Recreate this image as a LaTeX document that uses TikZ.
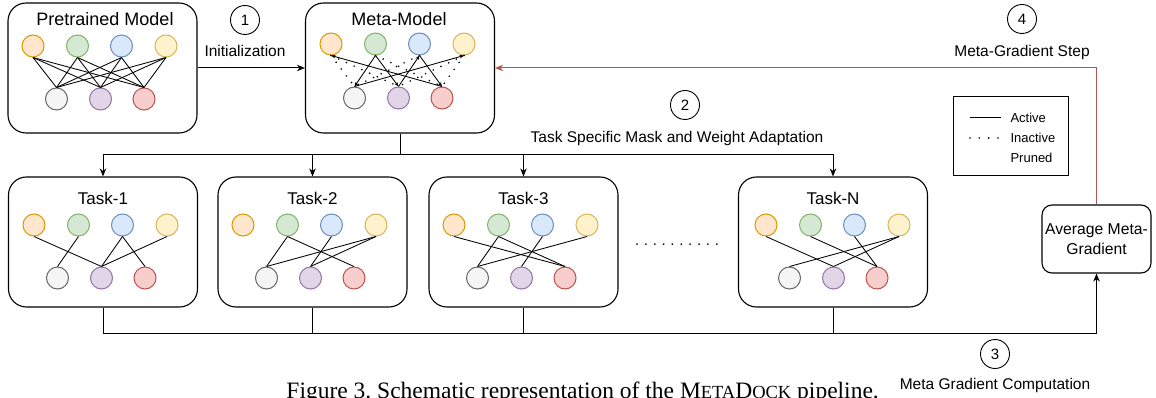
\documentclass[tikz,border=0pt]{standalone}
\usepackage{fontspec}
\setmainfont{Liberation Sans}
\newfontfamily\capfont{Liberation Serif}
\usetikzlibrary{arrows.meta}
\definecolor{oraF}{HTML}{FFE6CC}\definecolor{oraD}{HTML}{D79B00}
\definecolor{grnF}{HTML}{D5E8D4}\definecolor{grnD}{HTML}{82B366}
\definecolor{bluF}{HTML}{DAE8FC}\definecolor{bluD}{HTML}{6C8EBF}
\definecolor{yelF}{HTML}{FFF2CC}\definecolor{yelD}{HTML}{D6B656}
\definecolor{gryF}{HTML}{F5F5F5}\definecolor{gryD}{HTML}{666666}
\definecolor{purF}{HTML}{E1D5E7}\definecolor{purD}{HTML}{9673A6}
\definecolor{redF}{HTML}{F8CECC}\definecolor{redD}{HTML}{B85450}
\tikzset{
  modelbox/.style={draw, line width=1.1pt, rounded corners=18pt, minimum width=189pt, minimum height=130pt, inner sep=0pt},
  avgbox/.style={draw, line width=1.1pt, rounded corners=10pt, minimum width=109pt, minimum height=68pt, inner sep=0pt, align=center, font=\fontsize{15.7}{20}\selectfont},
  legbox/.style={draw, line width=1pt, minimum width=115pt, minimum height=79pt, inner sep=0pt},
  neu/.style={circle, draw, line width=1pt, minimum size=22pt, inner sep=0pt},
  ora/.style={neu, fill=oraF, draw=oraD}, grn/.style={neu, fill=grnF, draw=grnD},
  blu/.style={neu, fill=bluF, draw=bluD}, yel/.style={neu, fill=yelF, draw=yelD},
  gry/.style={neu, fill=gryF, draw=gryD}, pur/.style={neu, fill=purF, draw=purD},
  rdn/.style={neu, fill=redF, draw=redD},
  wire/.style={line width=0.85pt},
  wiretip/.style={line width=0.85pt, -{Stealth[length=4.5pt,width=3.5pt]}},
  pruned/.style={line width=1.8pt, line cap=round, dash pattern=on 0pt off 8.5pt},
  arr/.style={line width=1pt, -{Stealth[length=8pt,width=6.5pt,inset=2.5pt]}},
  redarr/.style={line width=1pt, draw=redD, -{Stealth[length=8pt,width=6.5pt,inset=2.5pt]}},
  conn/.style={line width=1pt},
  bigtitle/.style={font=\fontsize{18}{21}\selectfont},
  tasktitle/.style={font=\fontsize{17}{20}\selectfont},
  lbl/.style={font=\fontsize{15.5}{18}\selectfont},
  num/.style={circle, draw, line width=0.9pt, minimum size=29pt, inner sep=0pt, font=\fontsize{15}{18}\selectfont},
  legtext/.style={anchor=west, font=\fontsize{13}{15}\selectfont},
}
% network: prefix, left x of box, y top row, y bottom row
\newcommand\netnodes[4]{%
  \node[ora] (#1a) at (#2+25,#3) {};
  \node[grn] (#1b) at (#2+69.5,#3) {};
  \node[blu] (#1c) at (#2+113.5,#3) {};
  \node[yel] (#1d) at (#2+158,#3) {};
  \node[gry] (#1x) at (#2+48.5,#4) {};
  \node[pur] (#1y) at (#2+92.5,#4) {};
  \node[rdn] (#1z) at (#2+136,#4) {};
}
\newcommand\wireup[3]{\draw[wire] (#1#2.south) -- (#1#3.north);}
\begin{document}
\begin{tikzpicture}[x=1pt,y=-1pt]
\path[fill=white, use as bounding box] (0,0) rectangle (1156,398);

% ---------- Pretrained model ----------
\node[modelbox] (pre) at (102.5,68) {};
\node[bigtitle] (preT) at (105,19) {Pretrained Model};
\netnodes{p}{8}{46}{99}
\foreach \u in {a,b,c,d}{\foreach \v in {x,y,z}{\draw[wire] (p\u.south) -- (p\v.north);}}

% ---------- Meta-model ----------
\node[modelbox] (meta) at (400,68) {};
\node[bigtitle] (metaT) at (399,19) {Meta-Model};
\netnodes{m}{306}{44}{98}
\draw[wiretip] (mz.north) -- (ma.south);
\draw[wiretip] (mb.south) -- (mx.north);
\draw[wiretip] (mb.south) -- (my.north);
\draw[wiretip] (my.north) -- (mc.south);
\draw[wiretip] (mc.south) -- (mz.north);
\draw[wiretip] (mx.north) -- (md.south);
\draw[pruned] (ma.south) -- (mx.north);
\draw[pruned] (ma.south) -- (my.north);
\draw[pruned] (mb.south) -- (mz.north);
\draw[pruned] (mc.south) -- (mx.north);
\draw[pruned] (md.south) -- (my.north);
\draw[pruned] (md.south) -- (mz.north);

% ---------- Tasks ----------
\node[modelbox] (t1) at (103,242) {};
\node[tasktitle] (t1T) at (103,198) {Task-1};
\netnodes{ta}{9}{225}{278}
\wireup{ta}{a}{y}\wireup{ta}{b}{x}\wireup{ta}{c}{y}\wireup{ta}{c}{z}\wireup{ta}{d}{y}

\node[modelbox] (t2) at (312.5,242) {};
\node[tasktitle] (t2T) at (312.5,198) {Task-2};
\netnodes{tb}{218}{225}{278}
\wireup{tb}{b}{x}\wireup{tb}{b}{z}\wireup{tb}{c}{y}\wireup{tb}{d}{x}\wireup{tb}{d}{y}

\node[modelbox] (t3) at (523.5,242) {};
\node[tasktitle] (t3T) at (523.5,198) {Task-3};
\netnodes{tc}{429}{225}{278}
\wireup{tc}{a}{z}\wireup{tc}{b}{x}\wireup{tc}{b}{z}\wireup{tc}{c}{y}\wireup{tc}{d}{x}

\node[modelbox] (tn) at (833,242) {};
\node[tasktitle] (tnT) at (833,198) {Task-N};
\netnodes{td}{741}{225}{278}
\wireup{td}{a}{y}\wireup{td}{b}{z}\wireup{td}{c}{z}\wireup{td}{d}{x}\wireup{td}{d}{y}

\node[anchor=base, font=\fontsize{15}{18}\selectfont] (ellip) at (677,245)
  {.\hspace{4.7pt}.\hspace{4.7pt}.\hspace{4.7pt}.\hspace{4.7pt}.\hspace{4.7pt}.\hspace{4.7pt}.\hspace{4.7pt}.\hspace{4.7pt}.\hspace{4.7pt}.};

% ---------- Average box, legend ----------
\node[avgbox] (avg) at (1096.5,239) {Average Meta-\\Gradient};
\node[legbox] (leg) at (1010.5,136.5) {};
\coordinate (la1) at (970,118); \coordinate (la2) at (1001,118);
\coordinate (lb1) at (970,138); \coordinate (lb2) at (1001,138);
\draw[line width=1pt] (la1) -- (la2);
\draw[line width=1.8pt, line cap=round, dash pattern=on 0pt off 9.3pt] (lb1) -- (lb2);
\node[legtext] (lA) at (1007,118) {Active};
\node[legtext] (lI) at (1007,138) {Inactive};
\node[legtext] (lP) at (1007,158) {Pruned};

% ---------- connectors ----------
\draw[arr] (pre) -- (meta);
\coordinate (hub) at (400,155);
\draw[conn] (meta.south) -- (hub);
\draw[arr] (hub) -| (t1.north);
\draw[arr] (hub) -| (t2.north);
\draw[arr] (hub) -| (t3.north);
\draw[arr] (hub) -| (tn.north);
\coordinate (bus) at (1096.5,333);
\draw[conn] (t1.south) |- (bus);
\draw[conn] (t2.south) -- (t2.south |- bus);
\draw[conn] (t3.south) -- (t3.south |- bus);
\draw[conn] (tn.south) -- (tn.south |- bus);
\draw[arr] (bus) -- (avg.south);
\draw[redarr] (avg.north) |- (meta.east);

% ---------- step labels ----------
\node[num] (n1) at (245,20) {1};
\node[lbl] (l1) at (245,51) {Initialization};
\node[num] (n2) at (685,105) {2};
\node[lbl] (l2) at (677,138) {Task Specific Mask and Weight Adaptation};
\node[num] (n3) at (995,354) {3};
\node[lbl] (l3) at (995,385) {Meta Gradient Computation};
\node[num] (n4) at (1022,19) {4};
\node[lbl] (l4) at (1022,52) {Meta-Gradient Step};

% ---------- caption (cut by the page edge, as in the reference) ----------
\node[anchor=base east, inner sep=0pt, font=\capfont\fontsize{23.5}{26}\selectfont] (cap) at (879,398)
  {Figure 3.\ Schematic representation of the M{\fontsize{18.5}{20}\selectfont ETA}D{\fontsize{18.5}{20}\selectfont OCK} pipeline.};
\end{tikzpicture}
\end{document}
